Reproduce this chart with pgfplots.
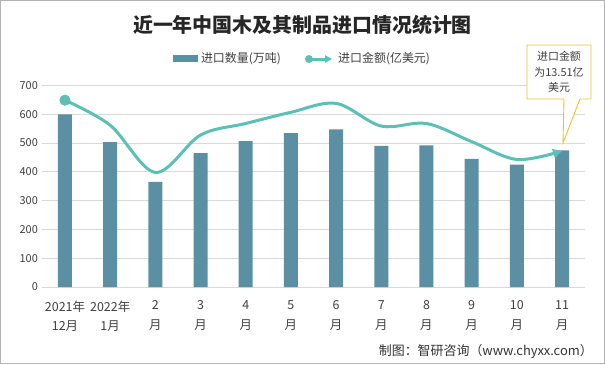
\documentclass[border=0pt]{standalone}
\usepackage{pgfplots}
\pgfplotsset{compat=1.18}
\usepackage{fontspec}
\setmainfont{Noto Sans CJK SC}
\usetikzlibrary{arrows.meta}
\definecolor{barc}{HTML}{5B8FA3}
\definecolor{linec}{HTML}{5CC0B5}
\definecolor{gridc}{HTML}{D9D9D9}
\definecolor{txt}{HTML}{404040}
\definecolor{calc}{HTML}{F5BE2A}
\begin{document}
\begin{tikzpicture}[x=1bp,y=1bp]
\draw[draw=gray!60, line width=1bp, fill=white] (0.5,0.5) rectangle (604.5,363.5);
\begin{axis}[
  at={(42.4bp,77bp)}, anchor=south west,
  scale only axis, width=542.2bp, height=201.5bp,
  xmin=-0.5, xmax=11.5, ymin=0, ymax=700,
  ytick={0,100,...,700},
  xtick={0,...,11},
  xticklabels={2021年\\12月,2022年\\1月,2\\月,3\\月,4\\月,5\\月,6\\月,7\\月,8\\月,9\\月,10\\月,11\\月},
  ymajorgrids, grid style={gridc, line width=0.8bp},
  separate axis lines,
  x axis line style={gridc, line width=0.8bp},
  y axis line style={draw=none},
  axis x line*=bottom, axis y line*=left,
  major tick length=0pt,
  tick style={draw=none},
  /pgf/number format/assume math mode=true,
  yticklabel style={font=\fontsize{11}{13}\selectfont, text=txt, xshift=-1bp},
  xticklabel style={align=center, font=\fontsize{12.5}{20}\selectfont, text=txt, yshift=-10bp},
  clip=false,
]
\addplot[ybar, bar width=14bp, fill=barc, draw=none] coordinates {
(0,600) (1,503) (2,365) (3,465) (4,507) (5,535) (6,548) (7,490) (8,492) (9,445) (10,425) (11,475)};
\addplot[smooth, tension=0.55, linec, line width=3bp, -{Triangle[length=9bp,width=9bp]},
  mark=*, mark indices={1}, mark size=4bp, mark options={fill=linec, draw=linec}] coordinates {
(0,649) (1,562) (2,398) (3,528) (4,568) (5,607) (6,638) (7,559) (8,568) (9,505) (10,443) (11,473)};
\end{axis}
% title
\node[font=\fontsize{20}{24}\selectfont\bfseries, text=black!85] at (302.5,339) {近一年中国木及其制品进口情况统计图};
% legend
\fill[barc] (172.6,302) rectangle (197.7,309);
\node[anchor=west, font=\fontsize{12}{14}\selectfont, text=txt, inner sep=0pt] at (200.8,305) {进口数量(万吨)};
\draw[linec, line width=3bp, -{Triangle[length=7bp,width=7bp]}] (309,305) -- (332,305);
\fill[linec] (309,305) circle (4bp);
\node[anchor=west, font=\fontsize{12}{14}\selectfont, text=txt, inner sep=0pt] at (338,305) {进口金额(亿美元)};
% callout
\draw[calc, line width=0.9bp, fill=white] (527,319) -- (591,319) -- (591,265) -- (580,265) -- (563,221) -- (564,265) -- (527,265) -- cycle;
\node[align=center, font=\fontsize{11}{15.5}\selectfont, text=txt] at (559,292) {进口金额\\为13.51亿\\美元};
% footer
\node[anchor=east, font=\fontsize{13}{15}\selectfont, text=black!80, inner sep=0pt] at (593,13) {制图：智研咨询（www.chyxx.com）};
\end{tikzpicture}
\end{document}
